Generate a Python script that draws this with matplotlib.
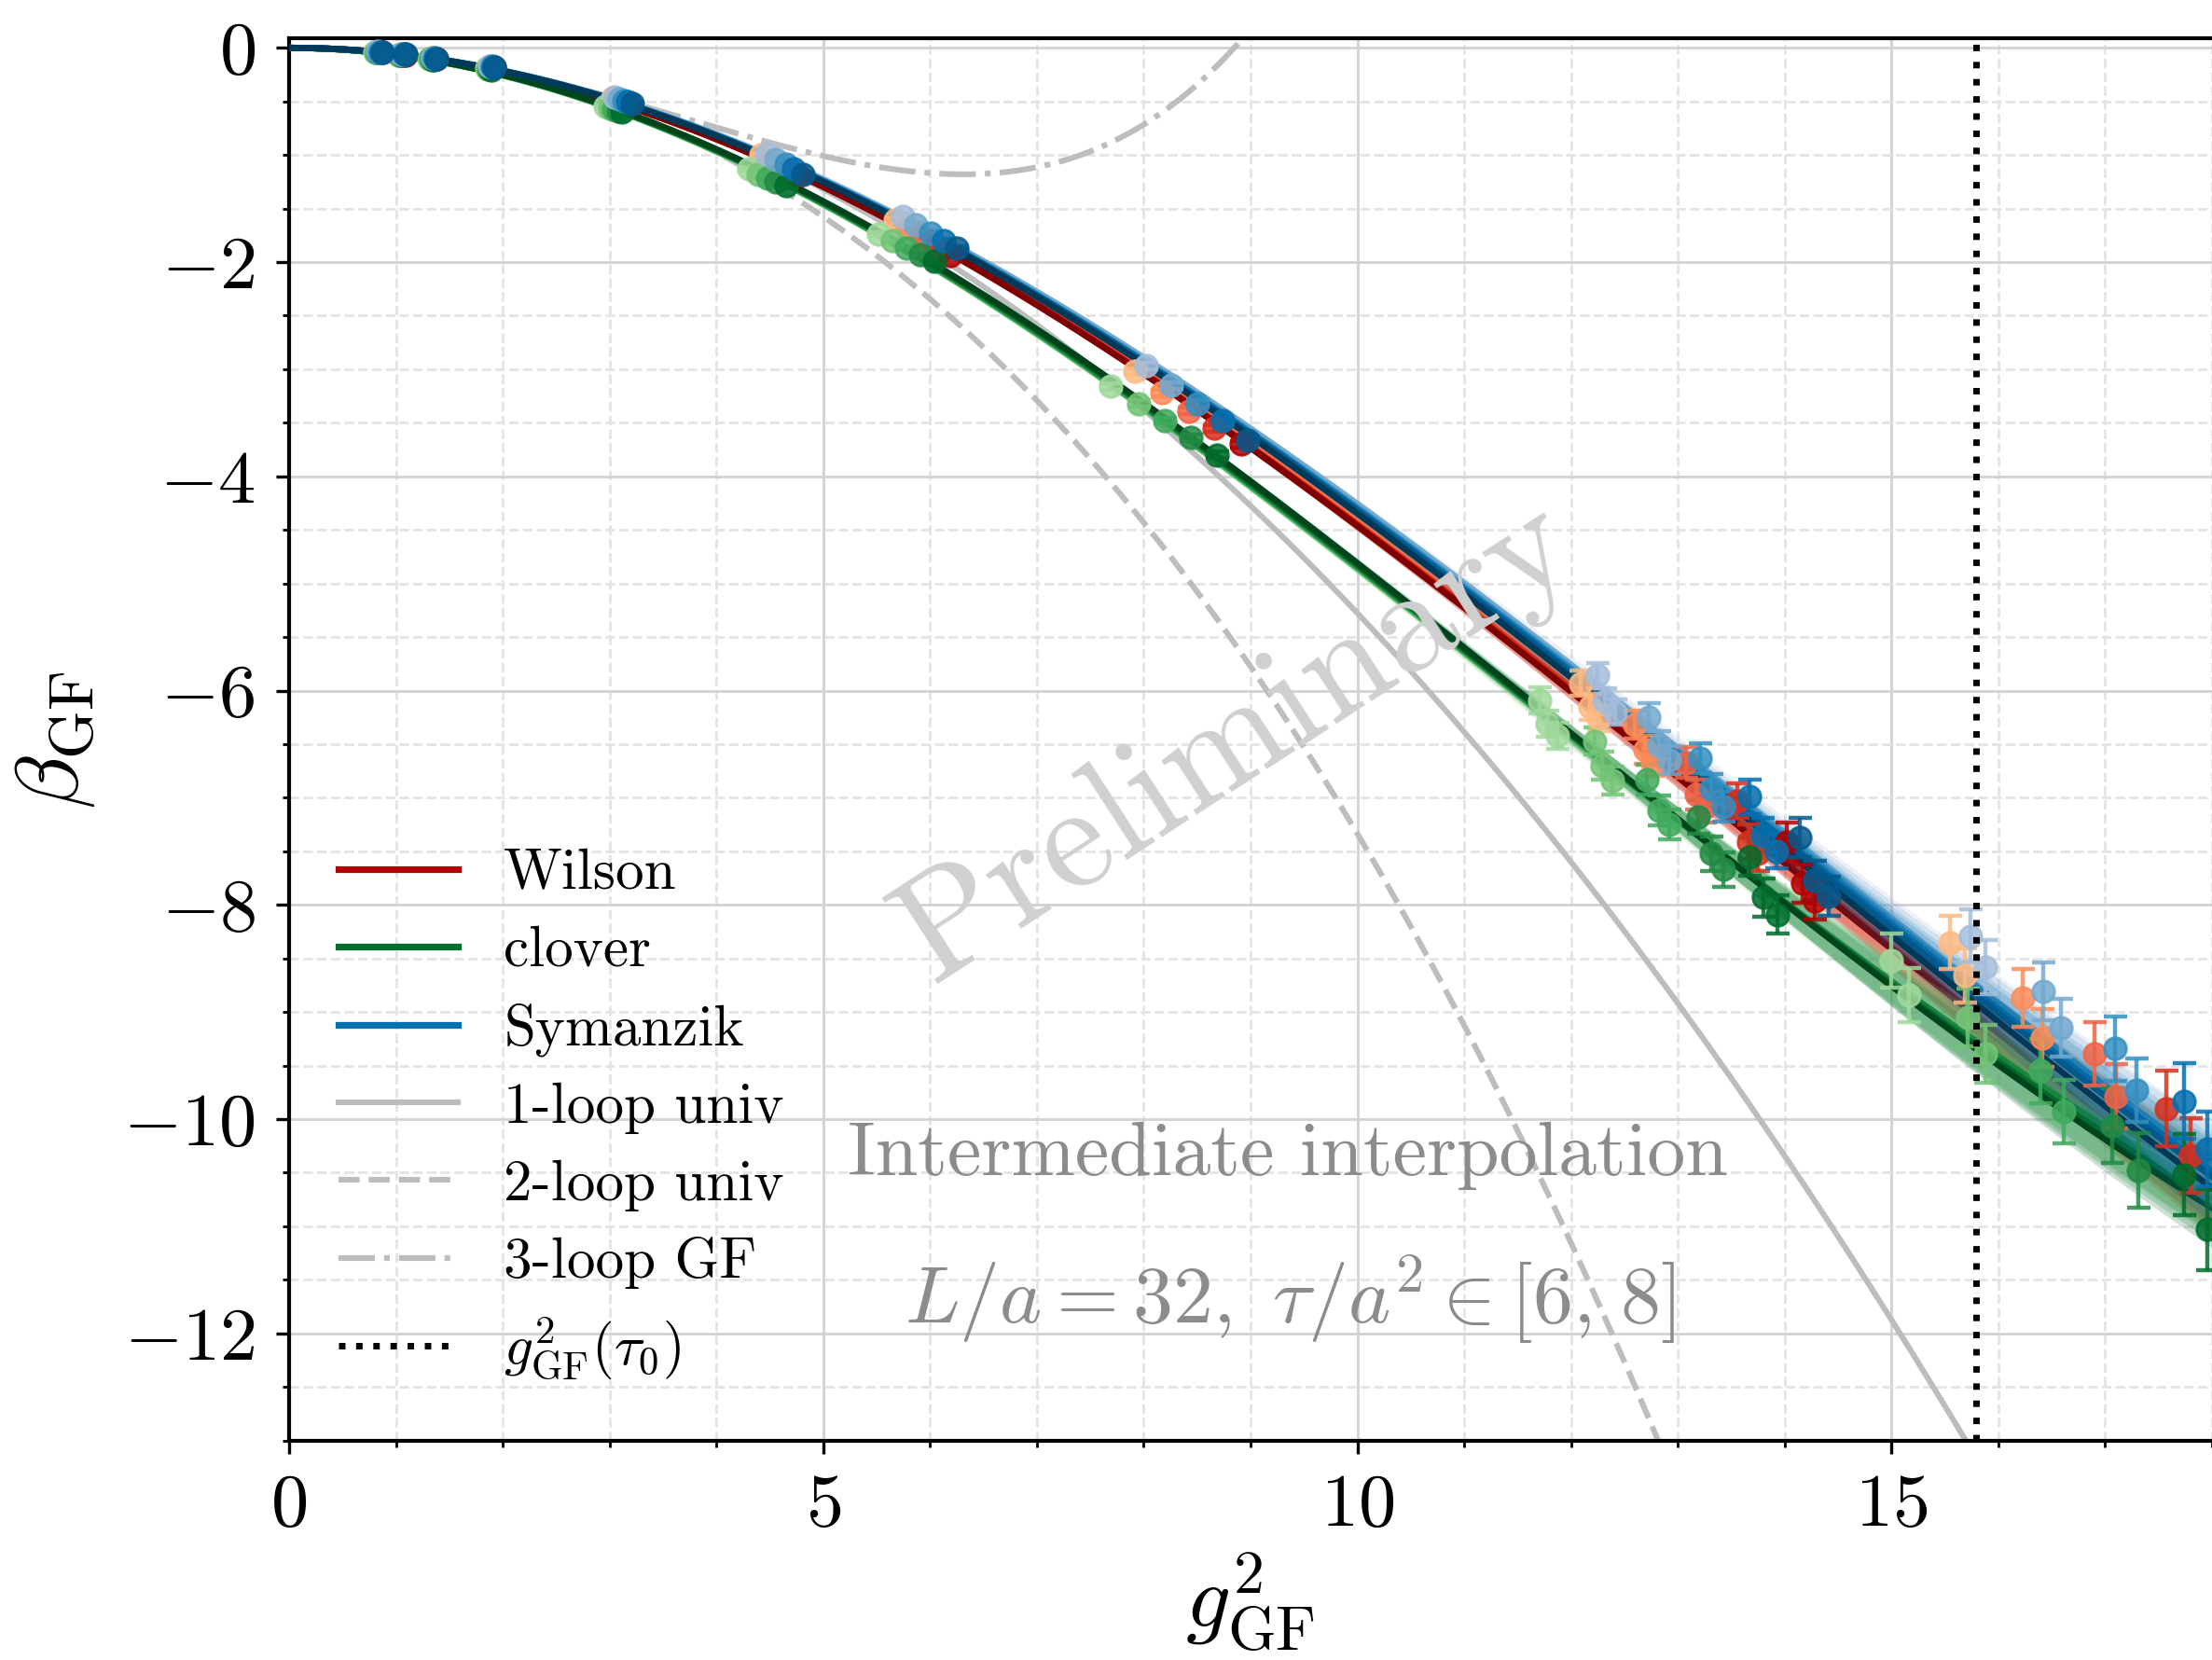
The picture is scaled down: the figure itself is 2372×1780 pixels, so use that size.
import numpy as np
import matplotlib
matplotlib.use("Agg")
import matplotlib.pyplot as plt
from matplotlib.lines import Line2D
from matplotlib.ticker import MultipleLocator

plt.rcParams["font.family"] = "serif"
plt.rcParams["font.serif"] = ["cmr10"]
plt.rcParams["mathtext.fontset"] = "cm"
plt.rcParams["axes.formatter.use_mathtext"] = True

# --- data (5 flow times per discretisation) ---
# Wilson
WILSON_X = [
    [0.83, 1.05, 1.34, 1.88, 3.03, 4.42, 5.67, 7.92, 12.09, 12.18, 12.26, 15.55, 15.69],
    [0.84, 1.06, 1.35, 1.89, 3.07, 4.51, 5.80, 8.17, 12.60, 12.69, 12.76, 16.23, 16.41],
    [0.85, 1.07, 1.36, 1.90, 3.11, 4.60, 5.93, 8.42, 13.08, 13.17, 13.25, 16.90, 17.10],
    [0.86, 1.08, 1.37, 1.91, 3.15, 4.68, 6.06, 8.66, 13.56, 13.66, 13.75, 17.57, 17.80],
    [0.87, 1.09, 1.38, 1.92, 3.19, 4.77, 6.19, 8.91, 14.02, 14.17, 14.28, 18.25, 18.50],
]
WILSON_Y = [
    [-0.038, -0.060, -0.097, -0.176, -0.47, -1.00, -1.61, -3.02, -5.93, -6.15, -6.26, -8.35, -8.66],
    [-0.039, -0.061, -0.098, -0.178, -0.485, -1.05, -1.69, -3.22, -6.32, -6.55, -6.67, -8.87, -9.24],
    [-0.040, -0.062, -0.100, -0.180, -0.50, -1.10, -1.77, -3.39, -6.67, -6.97, -7.09, -9.39, -9.79],
    [-0.041, -0.063, -0.101, -0.182, -0.515, -1.14, -1.85, -3.55, -7.03, -7.41, -7.52, -9.90, -10.34],
    [-0.042, -0.064, -0.103, -0.184, -0.53, -1.19, -1.94, -3.70, -7.41, -7.80, -7.96, -10.45, -10.90],
]
# clover
CLOVER_X = [
    [0.80, 1.02, 1.31, 1.85, 2.96, 4.30, 5.52, 7.69, 11.71, 11.78, 11.87, 15.00, 15.16],
    [0.81, 1.03, 1.32, 1.86, 3.00, 4.39, 5.65, 7.95, 12.22, 12.29, 12.39, 15.71, 15.88],
    [0.82, 1.04, 1.33, 1.87, 3.04, 4.48, 5.78, 8.20, 12.71, 12.82, 12.92, 16.39, 16.61],
    [0.83, 1.05, 1.34, 1.88, 3.08, 4.56, 5.91, 8.44, 13.19, 13.31, 13.43, 17.07, 17.31],
    [0.84, 1.06, 1.35, 1.89, 3.12, 4.65, 6.04, 8.69, 13.67, 13.80, 13.93, 17.74, 17.96],
]
CLOVER_Y = [
    [-0.040, -0.063, -0.102, -0.190, -0.55, -1.13, -1.74, -3.16, -6.09, -6.31, -6.42, -8.52, -8.84],
    [-0.041, -0.064, -0.104, -0.194, -0.56, -1.18, -1.80, -3.32, -6.47, -6.70, -6.84, -9.05, -9.39],
    [-0.042, -0.065, -0.106, -0.198, -0.575, -1.22, -1.87, -3.48, -6.83, -7.12, -7.25, -9.55, -9.93],
    [-0.043, -0.067, -0.108, -0.201, -0.59, -1.25, -1.93, -3.64, -7.18, -7.52, -7.67, -10.06, -10.48],
    [-0.044, -0.068, -0.110, -0.205, -0.60, -1.29, -1.99, -3.80, -7.55, -7.93, -8.09, -10.52, -11.03],
]
# Symanzik
SYM_X = [
    [0.83, 1.05, 1.34, 1.88, 3.05, 4.47, 5.74, 8.02, 12.25, 12.32, 12.41, 15.74, 15.88],
    [0.84, 1.06, 1.35, 1.89, 3.09, 4.56, 5.87, 8.26, 12.73, 12.82, 12.92, 16.42, 16.59],
    [0.85, 1.07, 1.36, 1.90, 3.13, 4.65, 6.01, 8.50, 13.21, 13.31, 13.43, 17.09, 17.29],
    [0.86, 1.08, 1.37, 1.91, 3.17, 4.72, 6.13, 8.74, 13.67, 13.79, 13.92, 17.74, 17.96],
    [0.87, 1.09, 1.38, 1.92, 3.21, 4.81, 6.25, 8.97, 14.14, 14.28, 14.41, 18.40, 18.62],
]
SYM_Y = [
    [-0.036, -0.058, -0.094, -0.172, -0.46, -0.99, -1.57, -2.97, -5.86, -6.10, -6.20, -8.29, -8.58],
    [-0.037, -0.059, -0.095, -0.174, -0.475, -1.045, -1.655, -3.15, -6.25, -6.51, -6.65, -8.81, -9.15],
    [-0.038, -0.060, -0.097, -0.176, -0.49, -1.09, -1.73, -3.32, -6.63, -6.92, -7.08, -9.34, -9.73],
    [-0.039, -0.061, -0.098, -0.177, -0.505, -1.13, -1.80, -3.48, -6.99, -7.35, -7.50, -9.83, -10.28],
    [-0.040, -0.062, -0.100, -0.179, -0.52, -1.18, -1.87, -3.66, -7.37, -7.77, -7.92, -10.50, -10.95],
]
# errors: first 8 points (weak coupling) common, then per flow time
ERR_LOW = [0.01, 0.01, 0.01, 0.01, 0.012, 0.015, 0.02, 0.03]
ERR_MID = [0.12, 0.13, 0.14, 0.16, 0.18]
ERR_HIGH = [0.25, 0.27, 0.30, 0.35, 0.38]

SHADES = [0.375, 0.5, 0.625, 0.75, 0.875]
G2_TAU0 = 15.79

# perturbative coefficients, SU(3) with Nf = 4
NF = 4
B0 = (11 - 2 * NF / 3) / (16 * np.pi**2)
B1 = (102 - 38 * NF / 3) / (16 * np.pi**2) ** 2
B2_GF = -0.000907


def fit_curve(x, y, e, xg):
    # beta = -g^4 (p0 + p1 g^2), weighted least squares
    A = np.vstack([x**2, x**3]).T / e[:, None]
    coef = np.linalg.lstsq(A, y / e, rcond=None)[0]
    cov = np.linalg.inv(A.T @ A)
    B = np.vstack([xg**2, xg**3]).T
    return B @ coef, np.sqrt(np.einsum("ij,jk,ik->i", B, cov, B))


fig = plt.figure(figsize=(11.86, 8.9), dpi=200)
ax = fig.add_axes([0.1307, 0.1322, 0.8693, 0.8448])

xg = np.linspace(0, 19, 400)
ax.plot(xg, -B0 * xg**2, color="#bdbdbd", lw=2.2, zorder=2)
ax.plot(xg, -B0 * xg**2 - B1 * xg**3, color="#bdbdbd", lw=2.2, ls="--", zorder=2)
ax.plot(xg, -B0 * xg**2 - B1 * xg**3 - B2_GF * xg**4, color="#bdbdbd", lw=2.2, ls="-.", zorder=2)
ax.axvline(G2_TAU0, color="black", lw=2.5, ls=":", zorder=6)

sets = [(WILSON_X, WILSON_Y, plt.cm.OrRd),
        (CLOVER_X, CLOVER_Y, plt.cm.Greens),
        (SYM_X, SYM_Y, plt.cm.PuBu)]

# fits with bands
for xs, ys, cmap in sets:
    for i, lev in enumerate(SHADES):
        x = np.array(xs[i])
        y = np.array(ys[i])
        e = np.array(ERR_LOW + [ERR_MID[i]] * 3 + [ERR_HIGH[i]] * 2)
        f, s = fit_curve(x, y, e, xg)
        ax.fill_between(xg, f - 2 * s, f + 2 * s, color=cmap(lev), alpha=0.2, lw=0, zorder=3)
        ax.plot(xg, f, color=cmap(min(lev + 0.125, 1.0)), lw=2.4, zorder=3)

# data points
for xs, ys, cmap in sets:
    for i, lev in enumerate(SHADES):
        e = ERR_LOW + [ERR_MID[i]] * 3 + [ERR_HIGH[i]] * 2
        ax.errorbar(xs[i], ys[i], yerr=e, fmt="o", color=cmap(lev), ms=8.5,
                    capsize=4.5, elinewidth=1.6, capthick=1.6, alpha=0.85, zorder=5)

ax.set_xlim(0, 18)
ax.set_ylim(-13, 0.09)
ax.xaxis.set_major_locator(MultipleLocator(5))
ax.xaxis.set_minor_locator(MultipleLocator(1))
ax.yaxis.set_major_locator(MultipleLocator(2))
ax.yaxis.set_minor_locator(MultipleLocator(0.5))
ax.grid(which="major", color="#d2d2d2", lw=1.0)
ax.grid(which="minor", color="#e4e4e4", lw=1.0, ls="--")
ax.set_axisbelow(True)
ax.tick_params(which="major", length=5, width=1.2, labelsize=29, pad=8)
ax.tick_params(which="minor", length=2.5, width=1.0)
for side in ["left", "bottom", "top"]:
    ax.spines[side].set_linewidth(1.5)
ax.spines["right"].set_visible(False)

ax.set_xlabel(r"$g^2_{\rm GF}$", fontsize=34, labelpad=4)
ax.set_ylabel(r"$\beta_{\rm GF}$", fontsize=34, labelpad=10)

ax.text(8.87, -6.48, "Preliminary", fontsize=58, color="#d0d0d0", rotation=33,
        ha="center", va="center", zorder=4)
ax.text(9.35, -10.34, "Intermediate interpolation", fontsize=29.5, color="#8c8c8c",
        ha="center", va="center", zorder=7)
ax.text(9.37, -11.68, r"$L/a = 32,\ \tau/a^2 \in [6,\, 8]$", fontsize=31, color="#8c8c8c",
        ha="center", va="center", zorder=7)

handles = [
    Line2D([], [], color="#b30000", lw=2.6),
    Line2D([], [], color="#006d2c", lw=2.6),
    Line2D([], [], color="#0570b0", lw=2.6),
    Line2D([], [], color="#bdbdbd", lw=2.2),
    Line2D([], [], color="#bdbdbd", lw=2.2, ls="--"),
    Line2D([], [], color="#bdbdbd", lw=2.2, ls="-."),
    Line2D([], [], color="black", lw=2.5, ls=":"),
]
labels = ["Wilson", "clover", "Symanzik", "1-loop univ", "2-loop univ", "3-loop GF",
          r"$g^2_{\rm GF}(\tau_0)$"]
ax.legend(handles, labels, loc="lower left", bbox_to_anchor=(-0.001, 0.005), frameon=False,
          fontsize=22, handlelength=2.1, labelspacing=0.45, handletextpad=0.8)

fig.savefig("out.png", dpi=200)
